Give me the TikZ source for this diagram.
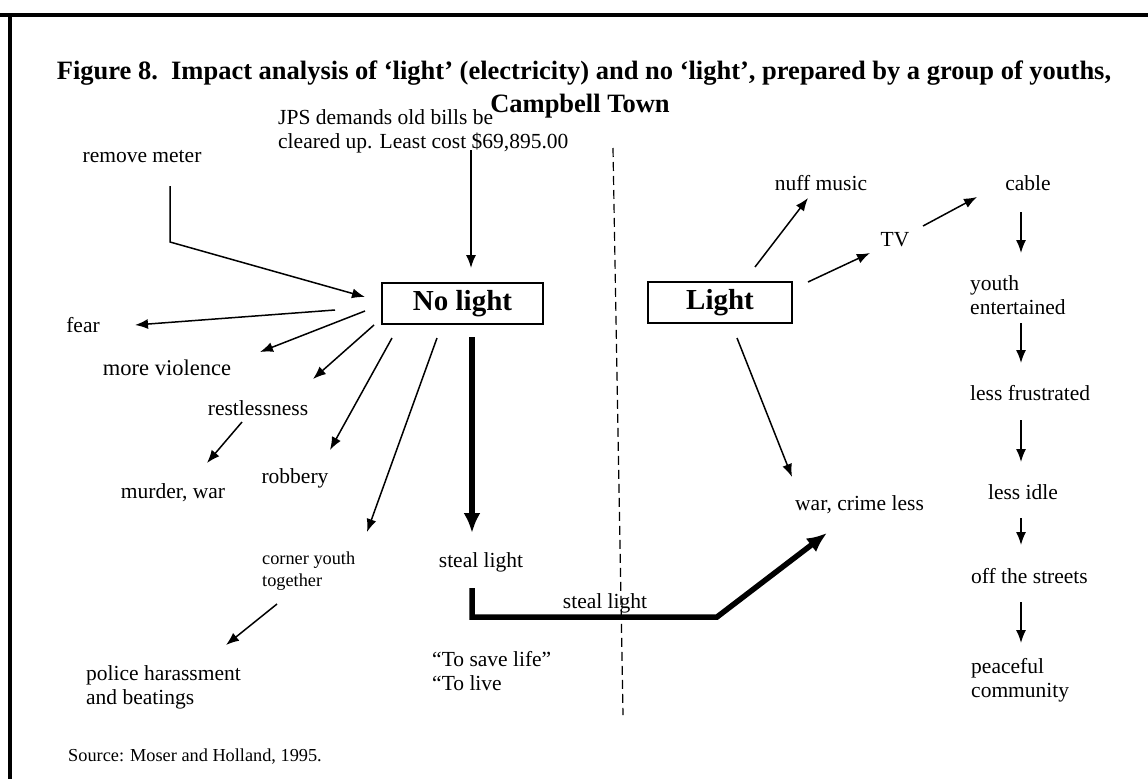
\documentclass[tikz,border=0pt]{standalone}
\usepackage{fontspec}
\setmainfont{Liberation Serif}
\usetikzlibrary{arrows.meta}
\begin{document}
\begin{tikzpicture}[x=1pt,y=-1pt,
  txt/.style={inner sep=0pt, font=\fontsize{21.5}{24}\selectfont},
  mltxt/.style={txt, align=left, anchor=west},
  sm/.style={inner sep=0pt, font=\fontsize{18.3}{22}\selectfont, align=left},
  ttl/.style={inner sep=0pt, anchor=base, font=\bfseries\fontsize{26.5}{30}\selectfont},
  boxn/.style={draw, line width=1.6pt, minimum height=41pt, inner sep=0pt, font=\bfseries\fontsize{29}{32}\selectfont},
  arr/.style={line width=1.5pt, -{Latex[length=13pt,width=10pt]}},
  fatarr/.style={line width=5.5pt, -{Latex[length=20pt,width=17pt]}},
  frame/.style={line width=3.2pt},
  divider/.style={line width=1.2pt, dash pattern=on 9pt off 5pt}
]
\fill[white] (0,0) rectangle (1148,779);
\useasboundingbox (0,0) rectangle (1148,779);

% frame
\draw[frame] (0,15) -- (1148,15);
\draw[frame] (10,14) -- (10,779);

% title
\node[ttl] (title) at (584,79) {Figure 8.\ \ Impact analysis of ‘light’ (electricity) and no ‘light’, prepared by a group of youths,};
\node[ttl] (town) at (580,112) {Campbell Town};

% divider
\coordinate (divtop) at (613,148);
\coordinate (divbot) at (623,715);
\draw[divider] (divtop) -- (divbot);

% boxes
\node[boxn, minimum width=161pt] (nolight) at (462.5,303.5) {No light};
\node[boxn, minimum width=144pt] (light) at (720,302.5) {Light};

% left texts
\node[mltxt] (jps) at (278,131) {JPS demands old bills be\\cleared up. Least cost \$69,895.00};
\node[txt] (rm) at (142,157) {remove meter};
\node[txt] (fear) at (83,325) {fear};
\node[txt, font=\fontsize{22.5}{24}\selectfont] (viol) at (167,368) {more violence};
\node[txt] (restless) at (258,408) {restlessness};
\node[txt] (murder) at (173,493) {murder, war};
\node[txt] (robbery) at (295,478) {robbery};
\node[sm, anchor=west] (corner) at (262,571) {corner youth\\together};
\node[mltxt] (police) at (86,687) {police harassment\\and beatings};
\node[sm, anchor=west] (source) at (68,757) {Source: Moser and Holland, 1995.};
\node[txt] (stealL) at (481,562) {steal light};
\node[txt] (stealM) at (605,603) {steal light};
\node[mltxt] (save) at (432,671) {“To save life”\\“To live};

% right texts
\node[txt] (nuff) at (821,183) {nuff music};
\node[txt] (tv) at (895,240) {TV};
\node[txt] (cable) at (1028,183) {cable};
\node[mltxt] (youth) at (970,295) {youth\\entertained};
\node[txt, anchor=west] (frus) at (970,393) {less frustrated};
\node[txt] (idle) at (1023,492) {less idle};
\node[txt, anchor=west] (off) at (971,576) {off the streets};
\node[mltxt] (peace) at (971,680) {peaceful\\community};
\node[txt, anchor=west] (war) at (795,505) {war, crime less};

% arrow end points
\coordinate (rmA) at (170,186);
\coordinate (rmB) at (170,242);
\coordinate (rmC) at (365,297);
\coordinate (jpsA) at (471,150);
\coordinate (jpsB) at (471,268);
\coordinate (fearA) at (335,310);
\coordinate (fearB) at (135,325);
\coordinate (violA) at (365,311);
\coordinate (violB) at (260,352);
\coordinate (restA) at (374,325);
\coordinate (restB) at (313,379);
\coordinate (robA) at (392,338);
\coordinate (robB) at (330,450);
\coordinate (corA) at (437,338);
\coordinate (corB) at (367,532);
\coordinate (murA) at (242,422);
\coordinate (murB) at (207,463);
\coordinate (polA) at (277,604);
\coordinate (polB) at (226,645);
\coordinate (stA) at (472,337);
\coordinate (stB) at (472,533);
\coordinate (swA) at (472,588);
\coordinate (swB) at (472,617);
\coordinate (swC) at (717,617);
\coordinate (swD) at (827,533);
\coordinate (nufA) at (755,267);
\coordinate (nufB) at (808,198);
\coordinate (tvA) at (808,282);
\coordinate (tvB) at (870,253);
\coordinate (cabA) at (923,226);
\coordinate (cabB) at (977,197);
\coordinate (warA) at (737,338);
\coordinate (warB) at (792,477);

% left connectors
\draw[arr] (rmA) -- (rmB) -- (rmC);
\draw[arr] (jpsA) -- (jpsB);
\draw[arr] (fearA) -- (fearB);
\draw[arr] (violA) -- (violB);
\draw[arr] (restA) -- (restB);
\draw[arr] (robA) -- (robB);
\draw[arr] (corA) -- (corB);
\draw[arr] (murA) -- (murB);
\draw[arr] (polA) -- (polB);
\draw[fatarr] (stA) -- (stB);
\draw[fatarr] (swA) -- (swB) -- (swC) -- (swD);

% right connectors
\draw[arr] (nufA) -- (nufB);
\draw[arr] (tvA) -- (tvB);
\draw[arr] (cabA) -- (cabB);
\draw[arr] (warA) -- (warB);
\draw[arr] (1021,212) -- (1021,253);
\draw[arr] (1021,323) -- (1021,363);
\draw[arr] (1021,420) -- (1021,462);
\draw[arr] (1021,518) -- (1021,545);
\draw[arr] (1021,602) -- (1021,643);
\end{tikzpicture}
\end{document}
